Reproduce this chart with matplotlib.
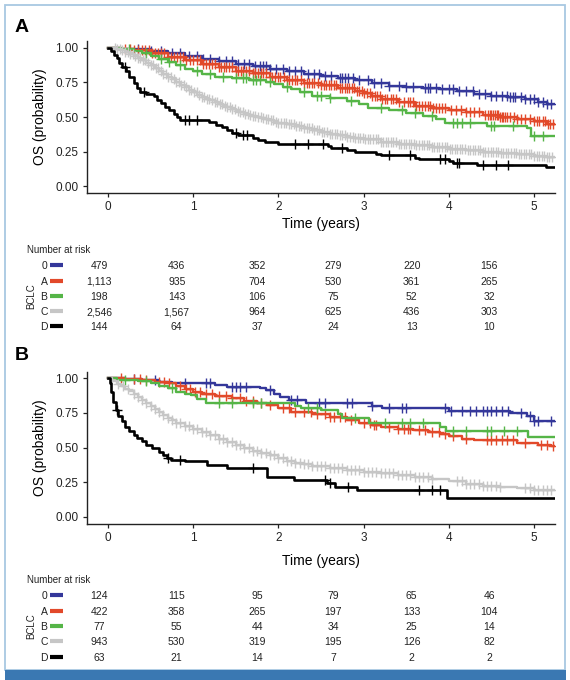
import numpy as np
import matplotlib
matplotlib.use("Agg")
import matplotlib.pyplot as plt
from matplotlib.patches import Rectangle

plt.rcParams['font.family'] = ['Liberation Sans', 'DejaVu Sans']

groups = ["0", "A", "B", "C", "D"]
colors = ["#34379a", "#e2492a", "#55b547", "#c6c6c6", "#000000"]
t_end = 5.25
risk_times = [0, 1, 2, 3, 4, 5]

# ---- panel A: step points (time, survival) and censor times ----
a0_t = [0, 0.15, 0.3, 0.5, 0.7, 0.9, 1.1, 1.3, 1.5, 1.7, 1.9, 2.1, 2.3, 2.5, 2.7, 2.9,
        3.1, 3.3, 3.5, 3.7, 3.9, 4.1, 4.3, 4.5, 4.7, 4.9, 5.05, 5.15]
a0_s = [1.0, 0.995, 0.99, 0.975, 0.96, 0.94, 0.922, 0.905, 0.885, 0.866, 0.85, 0.83, 0.812,
        0.80, 0.785, 0.77, 0.745, 0.725, 0.715, 0.71, 0.70, 0.685, 0.668, 0.655, 0.643, 0.63,
        0.61, 0.595]
a0_c = [0.35, 0.5, 0.62, 0.75, 0.85, 0.95, 1.05, 1.12, 1.2, 1.3, 1.38, 1.45, 1.52, 1.6, 1.66,
        1.72, 1.78, 1.82, 1.85, 1.9, 1.97, 2.05, 2.12, 2.2, 2.27, 2.35, 2.42, 2.48, 2.55, 2.62,
        2.72, 2.75, 2.78, 2.82, 2.88, 2.95, 3.05, 3.12, 3.2, 3.3, 3.42, 3.5, 3.58, 3.72, 3.75,
        3.78, 3.85, 3.92, 4.0, 4.05, 4.12, 4.2, 4.28, 4.35, 4.42, 4.5, 4.55, 4.62, 4.68, 4.72,
        4.75, 4.78, 4.85, 4.9, 4.95, 5.0, 5.05, 5.1, 5.15, 5.2]

aA_t = [0, 0.15, 0.3, 0.5, 0.7, 0.9, 1.1, 1.3, 1.5, 1.7, 1.9, 2.1, 2.3, 2.5, 2.7, 2.9, 3.0,
        3.1, 3.2, 3.4, 3.6, 3.8, 4.0, 4.2, 4.4, 4.6, 4.8, 5.0, 5.15]
aA_s = [1.0, 0.995, 0.983, 0.96, 0.935, 0.91, 0.885, 0.862, 0.836, 0.815, 0.792, 0.765, 0.745,
        0.728, 0.71, 0.69, 0.675, 0.655, 0.63, 0.605, 0.58, 0.565, 0.55, 0.533, 0.515, 0.50,
        0.488, 0.47, 0.45]
aA_c = [0.2, 0.26, 0.3, 0.35, 0.4, 0.44, 0.48, 0.52, 0.55, 0.59, 0.62, 0.66, 0.7, 0.74, 0.78,
        0.81, 0.85, 0.88, 0.92, 0.96, 1.0, 1.04, 1.08, 1.11, 1.15, 1.18, 1.22, 1.26, 1.3,
        1.33, 1.36, 1.39, 1.42, 1.46, 1.5, 1.53, 1.56, 1.59, 1.62, 1.66, 1.7, 1.73, 1.76,
        1.79, 1.82, 1.86, 1.9, 1.93, 1.96, 1.99, 2.02, 2.06, 2.1, 2.13, 2.16, 2.19, 2.22,
        2.26, 2.3, 2.33, 2.36, 2.39, 2.42, 2.46, 2.5, 2.53, 2.56, 2.59, 2.62, 2.65, 2.68,
        2.72, 2.75, 2.78, 2.8, 2.83, 2.86, 2.89, 2.92, 2.95, 2.98, 3.01, 3.04, 3.07, 3.1,
        3.13, 3.16, 3.19, 3.22, 3.25, 3.28, 3.32, 3.35, 3.38, 3.42, 3.48, 3.52, 3.55, 3.58,
        3.62, 3.65, 3.68, 3.72, 3.75, 3.78, 3.82, 3.85, 3.88, 3.92, 3.95, 4.02, 4.08, 4.14,
        4.2, 4.25, 4.3, 4.36, 4.42, 4.46, 4.48, 4.5, 4.52, 4.54, 4.56, 4.58, 4.6, 4.62, 4.64,
        4.66, 4.68, 4.72, 4.76, 4.8, 4.85, 4.9, 4.95, 5.0, 5.03, 5.06, 5.1, 5.13, 5.16, 5.19,
        5.22]

aB_t = [0, 0.15, 0.3, 0.4, 0.5, 0.6, 0.7, 0.8, 0.9, 1.0, 1.1, 1.25, 1.45, 1.65, 1.85, 1.95,
        2.05, 2.15, 2.25, 2.4, 2.6, 2.8, 2.95, 3.05, 3.3, 3.5, 3.7, 3.85, 3.95, 4.45, 4.92,
        4.96]
aB_s = [1.0, 0.99, 0.98, 0.965, 0.945, 0.92, 0.90, 0.875, 0.85, 0.83, 0.812, 0.79, 0.78,
        0.768, 0.755, 0.74, 0.72, 0.70, 0.683, 0.655, 0.635, 0.615, 0.595, 0.565, 0.55, 0.53,
        0.51, 0.485, 0.46, 0.435, 0.42, 0.36]
aB_c = [0.25, 0.45, 0.62, 0.72, 0.85, 1.05, 1.2, 1.35, 1.5, 1.58, 1.62, 1.7, 1.74, 1.78,
        1.9, 2.1, 2.3, 2.45, 2.5, 2.6, 2.85, 3.2, 3.45, 3.6, 3.8, 4.05, 4.1, 4.15, 4.25, 4.5,
        4.53, 4.75, 5.0, 5.1]

aC_t = [0, 0.05, 0.1, 0.15, 0.2, 0.25, 0.3, 0.35, 0.4, 0.45, 0.5, 0.55, 0.6, 0.65, 0.7,
        0.75, 0.8, 0.85, 0.9, 0.95, 1.0, 1.05, 1.1, 1.15, 1.2, 1.25, 1.3, 1.35, 1.4, 1.45,
        1.5, 1.55, 1.6, 1.65, 1.7, 1.75, 1.8, 1.85, 1.9, 1.95, 2.0, 2.1, 2.2, 2.3, 2.4, 2.5,
        2.6, 2.7, 2.8, 2.9, 3.0, 3.2, 3.4, 3.6, 3.8, 4.0, 4.2, 4.4, 4.6, 4.8, 5.0, 5.15]
aC_s = [1.0, 0.997, 0.99, 0.982, 0.97, 0.958, 0.945, 0.928, 0.91, 0.893, 0.875, 0.853,
        0.83, 0.81, 0.79, 0.772, 0.755, 0.735, 0.715, 0.697, 0.68, 0.662, 0.645, 0.632, 0.62,
        0.607, 0.595, 0.582, 0.57, 0.557, 0.545, 0.535, 0.525, 0.516, 0.508, 0.499, 0.49,
        0.482, 0.475, 0.467, 0.46, 0.447, 0.432, 0.418, 0.403, 0.391, 0.38, 0.369, 0.358,
        0.349, 0.34, 0.322, 0.308, 0.296, 0.284, 0.272, 0.26, 0.248, 0.239, 0.23, 0.221, 0.212]
aC_c = [0.08, 0.11, 0.14, 0.17, 0.2, 0.23, 0.26, 0.29, 0.32, 0.35, 0.38, 0.41, 0.44, 0.47,
        0.5, 0.53, 0.56, 0.59, 0.62, 0.65, 0.68, 0.71, 0.74, 0.77, 0.8, 0.83, 0.86, 0.89,
        0.92, 0.95, 0.98, 1.01, 1.04, 1.07, 1.1, 1.13, 1.16, 1.19, 1.22, 1.25, 1.28, 1.31,
        1.34, 1.37, 1.4, 1.43, 1.46, 1.49, 1.52, 1.55, 1.58, 1.61, 1.64, 1.67, 1.7, 1.73,
        1.76, 1.79, 1.82, 1.85, 1.88, 1.91, 1.94, 1.97, 2.0, 2.03, 2.06, 2.09, 2.12, 2.15,
        2.18, 2.21, 2.24, 2.27, 2.3, 2.33, 2.36, 2.39, 2.42, 2.45, 2.48, 2.51, 2.54, 2.57,
        2.6, 2.63, 2.66, 2.69, 2.72, 2.75, 2.78, 2.81, 2.84, 2.87, 2.9, 2.93, 2.96, 2.99,
        3.02, 3.05, 3.08, 3.11, 3.14, 3.17, 3.2, 3.23, 3.26, 3.29, 3.32, 3.35, 3.38, 3.41,
        3.44, 3.47, 3.5, 3.53, 3.56, 3.59, 3.62, 3.65, 3.68, 3.71, 3.74, 3.77, 3.8, 3.83,
        3.86, 3.89, 3.92, 3.95, 3.98, 4.01, 4.04, 4.07, 4.1, 4.13, 4.16, 4.19, 4.22, 4.25,
        4.28, 4.31, 4.34, 4.37, 4.4, 4.43, 4.46, 4.49, 4.52, 4.55, 4.58, 4.61, 4.64, 4.67,
        4.7, 4.73, 4.76, 4.79, 4.82, 4.85, 4.88, 4.91, 4.94, 4.97, 5.0, 5.03, 5.06, 5.09,
        5.12, 5.15, 5.18, 5.21]

aD_t = [0, 0.03, 0.07, 0.1, 0.13, 0.16, 0.21, 0.25, 0.30, 0.34, 0.38, 0.45, 0.54, 0.58, 0.62,
        0.67, 0.72, 0.77, 0.81, 0.84, 1.18, 1.27, 1.34, 1.40, 1.46, 1.52, 1.70, 1.76, 1.84,
        2.0, 2.58, 2.62, 2.80, 2.9, 3.15, 3.2, 3.6, 3.65, 4.0, 4.05, 4.33, 5.14]
aD_s = [1.0, 0.975, 0.95, 0.925, 0.89, 0.86, 0.83, 0.79, 0.745, 0.71, 0.68, 0.665, 0.655,
        0.625, 0.60, 0.575, 0.55, 0.525, 0.50, 0.48, 0.465, 0.445, 0.425, 0.405, 0.385, 0.37,
        0.35, 0.333, 0.32, 0.305, 0.29, 0.275, 0.26, 0.248, 0.235, 0.224, 0.205, 0.193, 0.18,
        0.168, 0.152, 0.137]
aD_c = [0.2, 0.42, 0.9, 0.95, 1.05, 1.5, 1.58, 1.63, 2.2, 2.35, 2.52, 2.75, 3.3, 3.55, 3.9,
        3.95, 4.1, 4.12, 4.4, 4.55, 4.7]

# ---- panel B ----
b0_t = [0, 0.2, 0.4, 0.6, 0.75, 1.25, 1.4, 1.78, 1.85, 1.95, 2.02, 2.12, 2.32, 3.1, 3.22,
        4.0, 4.72, 4.92, 5.0]
b0_s = [1.0, 0.995, 0.985, 0.975, 0.965, 0.95, 0.94, 0.93, 0.915, 0.89, 0.868, 0.844, 0.824,
        0.803, 0.784, 0.766, 0.752, 0.725, 0.694]
b0_c = [0.3, 0.55, 0.9, 1.15, 1.2, 1.45, 1.5, 1.55, 1.62, 1.9, 2.15, 2.22, 2.48, 2.55, 2.8,
        2.86, 3.1, 3.3, 3.45, 3.5, 3.95, 4.02, 4.15, 4.25, 4.32, 4.4, 4.45, 4.5, 4.55, 4.62,
        4.7, 4.85, 4.95, 5.0, 5.05, 5.2]

bA_t = [0, 0.2, 0.4, 0.55, 0.7, 0.8, 0.9, 1.0, 1.1, 1.25, 1.45, 1.6, 1.75, 1.87, 2.0, 2.15,
        2.4, 2.6, 2.8, 2.95, 3.1, 3.2, 3.4, 3.58, 3.75, 3.9, 4.0, 4.15, 4.3, 4.8, 5.05, 5.2]
bA_s = [1.0, 0.995, 0.985, 0.975, 0.965, 0.945, 0.925, 0.905, 0.89, 0.875, 0.858, 0.84,
        0.825, 0.808, 0.785, 0.76, 0.743, 0.722, 0.70, 0.68, 0.66, 0.648, 0.637, 0.627, 0.61,
        0.598, 0.585, 0.565, 0.552, 0.535, 0.52, 0.508]
bA_c = [0.15, 0.3, 0.38, 0.45, 0.6, 0.66, 0.72, 0.85, 0.92, 0.96, 1.02, 1.08, 1.15, 1.22,
        1.3, 1.38, 1.45, 1.55, 1.62, 1.7, 1.8, 1.9, 2.05, 2.12, 2.2, 2.3, 2.38, 2.45, 2.55,
        2.6, 2.65, 2.72, 2.78, 2.85, 3.0, 3.08, 3.12, 3.15, 3.3, 3.4, 3.48, 3.52, 3.55, 3.65,
        3.72, 3.8, 3.88, 3.95, 4.05, 4.2, 4.45, 4.5, 4.55, 4.62, 4.68, 4.75, 4.9, 5.08, 5.15,
        5.22]

bB_t = [0, 0.1, 0.35, 0.5, 0.6, 0.7, 0.8, 0.9, 0.97, 1.05, 1.15, 2.2, 2.26, 2.5, 2.7, 2.75,
        3.06, 3.9, 3.97, 4.93]
bB_s = [1.0, 0.99, 0.98, 0.965, 0.945, 0.928, 0.905, 0.89, 0.88, 0.85, 0.82, 0.80, 0.784,
        0.77, 0.745, 0.711, 0.675, 0.645, 0.622, 0.578]
bB_c = [0.2, 0.45, 0.75, 1.3, 1.45, 1.7, 1.8, 2.35, 2.45, 2.9, 3.25, 3.45, 3.55, 3.7, 4.05,
        4.2, 4.45, 4.5, 4.65, 4.8]

bC_t = [0, 0.05, 0.1, 0.15, 0.2, 0.25, 0.3, 0.35, 0.4, 0.45, 0.5, 0.55, 0.6, 0.65, 0.7,
        0.75, 0.8, 0.9, 1.0, 1.1, 1.2, 1.3, 1.4, 1.5, 1.6, 1.7, 1.8, 1.9, 2.0, 2.1, 2.2, 2.3,
        2.4, 2.6, 2.8, 3.0, 3.2, 3.4, 3.6, 3.8, 4.0, 4.2, 4.4, 4.6, 4.8, 5.0, 5.15]
bC_s = [1.0, 0.98, 0.96, 0.945, 0.925, 0.908, 0.89, 0.868, 0.845, 0.822, 0.80, 0.777, 0.755,
        0.733, 0.712, 0.696, 0.68, 0.655, 0.632, 0.612, 0.59, 0.565, 0.538, 0.515, 0.495,
        0.475, 0.458, 0.443, 0.425, 0.405, 0.39, 0.378, 0.367, 0.35, 0.337, 0.325, 0.313,
        0.302, 0.29, 0.272, 0.254, 0.238, 0.223, 0.213, 0.205, 0.196, 0.19]
bC_c = [0.12, 0.18, 0.24, 0.3, 0.35, 0.4, 0.45, 0.5, 0.55, 0.6, 0.65, 0.7, 0.75, 0.8, 0.85,
        0.9, 0.95, 1.0, 1.05, 1.1, 1.15, 1.2, 1.25, 1.3, 1.35, 1.4, 1.45, 1.5, 1.55, 1.6,
        1.65, 1.7, 1.75, 1.8, 1.85, 1.9, 1.95, 2.0, 2.05, 2.1, 2.15, 2.2, 2.25, 2.3, 2.35,
        2.4, 2.45, 2.5, 2.55, 2.6, 2.65, 2.7, 2.75, 2.8, 2.85, 2.9, 2.95, 3.0, 3.05, 3.1,
        3.15, 3.2, 3.25, 3.3, 3.35, 3.4, 3.45, 3.5, 3.55, 3.6, 3.65, 3.7, 3.75, 3.8, 4.1,
        4.15, 4.2, 4.25, 4.3, 4.35, 4.4, 4.45, 4.5, 4.55, 4.6, 4.9, 4.95, 5.0, 5.05, 5.1,
        5.15, 5.2]

bD_t = [0, 0.02, 0.04, 0.06, 0.09, 0.12, 0.16, 0.2, 0.25, 0.3, 0.34, 0.4, 0.45, 0.52, 0.6,
        0.65, 0.69, 0.74, 0.9, 1.16, 1.40, 1.87, 2.18, 2.57, 2.67, 2.92, 3.98]
bD_s = [1.0, 0.97, 0.9, 0.83, 0.77, 0.73, 0.69, 0.65, 0.62, 0.59, 0.57, 0.545, 0.52, 0.495,
        0.47, 0.445, 0.425, 0.41, 0.40, 0.375, 0.35, 0.289, 0.265, 0.241, 0.217, 0.193, 0.133]
bD_c = [0.1, 0.7, 0.85, 1.7, 2.55, 2.6, 2.82, 3.65, 3.8, 3.9]

# number at risk tables
risk_a = [[479, 436, 352, 279, 220, 156],
          [1113, 935, 704, 530, 361, 265],
          [198, 143, 106, 75, 52, 32],
          [2546, 1567, 964, 625, 436, 303],
          [144, 64, 37, 24, 13, 10]]
risk_b = [[124, 115, 95, 79, 65, 46],
          [422, 358, 265, 197, 133, 104],
          [77, 55, 44, 34, 25, 14],
          [943, 530, 319, 195, 126, 82],
          [63, 21, 14, 7, 2, 2]]

panel_a = [(a0_t, a0_s, a0_c), (aA_t, aA_s, aA_c), (aB_t, aB_s, aB_c),
           (aC_t, aC_s, aC_c), (aD_t, aD_s, aD_c)]
panel_b = [(b0_t, b0_s, b0_c), (bA_t, bA_s, bA_c), (bB_t, bB_s, bB_c),
           (bC_t, bC_s, bC_c), (bD_t, bD_s, bD_c)]

W, H = 570, 680
fig = plt.figure(figsize=(W / 100, H / 100), dpi=100)


def fx(x):
    return x / W


def fy(y):
    return 1 - y / H


def draw_km(ax, curves):
    # grey and black first so the coloured groups sit on top like the original
    order = [3, 4, 2, 1, 0]
    for i in order:
        t, s, c = curves[i]
        t = np.array(t + [t_end])
        s = np.array(s + [s[-1]])
        lw = 1.9 if i == 4 else 1.7
        ax.step(t, s, where='post', color=colors[i], lw=lw, zorder=2 + i * 0.1)
        c = np.array(c)
        idx = np.searchsorted(t, c, side='right') - 1
        ax.plot(c, s[idx], ls='none', marker='+', ms=7, mew=1.0,
                color=colors[i], zorder=2 + i * 0.1)
    ax.set_xlim(-0.25, t_end)
    ax.set_ylim(-0.05, 1.05)
    ax.set_xticks(risk_times)
    ax.set_yticks([0, 0.25, 0.5, 0.75, 1.0])
    ax.set_yticklabels(["0.00", "0.25", "0.50", "0.75", "1.00"])
    for side in ['top', 'right']:
        ax.spines[side].set_visible(False)
    for side in ['left', 'bottom']:
        ax.spines[side].set_linewidth(1.0)
        ax.spines[side].set_color('#222222')
    ax.tick_params(labelsize=8.5, length=3, width=0.9, colors='#222222', pad=3)
    ax.set_ylabel("OS (probability)", fontsize=10, labelpad=6)


def draw_table(top_y, rows_y, risk):
    fig.text(fx(27), fy(top_y), "Number at risk", fontsize=7, va='center', ha='left',
             color='#222222')
    col_x = [99.3, 176.7, 257.3, 333.3, 411.7, 489.3]
    for r, g in enumerate(groups):
        y = rows_y[r]
        fig.text(fx(44), fy(y), g, fontsize=7.5, ha='center', va='center_baseline',
                 color='#222222')
        fig.add_artist(plt.Line2D([fx(50), fx(62.5)], [fy(y), fy(y)], color=colors[r],
                                  lw=3, solid_capstyle='butt'))
        for k, v in enumerate(risk[r]):
            fig.text(fx(col_x[k]), fy(y), f"{v:,}", fontsize=7.5, ha='center',
                     va='center_baseline', color='#222222')
    fig.text(fx(31.5), fy(rows_y[2]), "BCLC", fontsize=7, rotation=90, ha='center',
             va='center', color='#222222')


# panel A axes
ax1 = fig.add_axes([fx(86.7), fy(193), fx(555.3) - fx(86.7), fy(41) - fy(193)])
draw_km(ax1, panel_a)
fig.text(fx(321), fy(224), "Time (years)", fontsize=10, ha='center', va='center')
fig.text(fx(15), fy(27), "A", fontsize=14, fontweight='bold', ha='left', va='center')
draw_table(250, [265, 280.7, 296, 311.3, 326.3], risk_a)

# panel B axes
ax2 = fig.add_axes([fx(86.7), fy(523.5), fx(555.3) - fx(86.7), fy(371.5) - fy(523.5)])
draw_km(ax2, panel_b)
fig.text(fx(321), fy(561), "Time (years)", fontsize=10, ha='center', va='center')
fig.text(fx(15), fy(355), "B", fontsize=14, fontweight='bold', ha='left', va='center')
draw_table(580, [595, 610.7, 625.7, 641, 656.7], risk_b)

# frame and footer bar
fig.add_artist(Rectangle((fx(5), fy(670)), fx(565) - fx(5), fy(5) - fy(670),
                         fill=False, edgecolor='#a8c8e2', lw=1.3))
fig.add_artist(Rectangle((fx(5), fy(680)), fx(566) - fx(5), fy(670) - fy(680),
                         facecolor='#3a78b2', edgecolor='none'))

fig.savefig("out.png", dpi=100)
